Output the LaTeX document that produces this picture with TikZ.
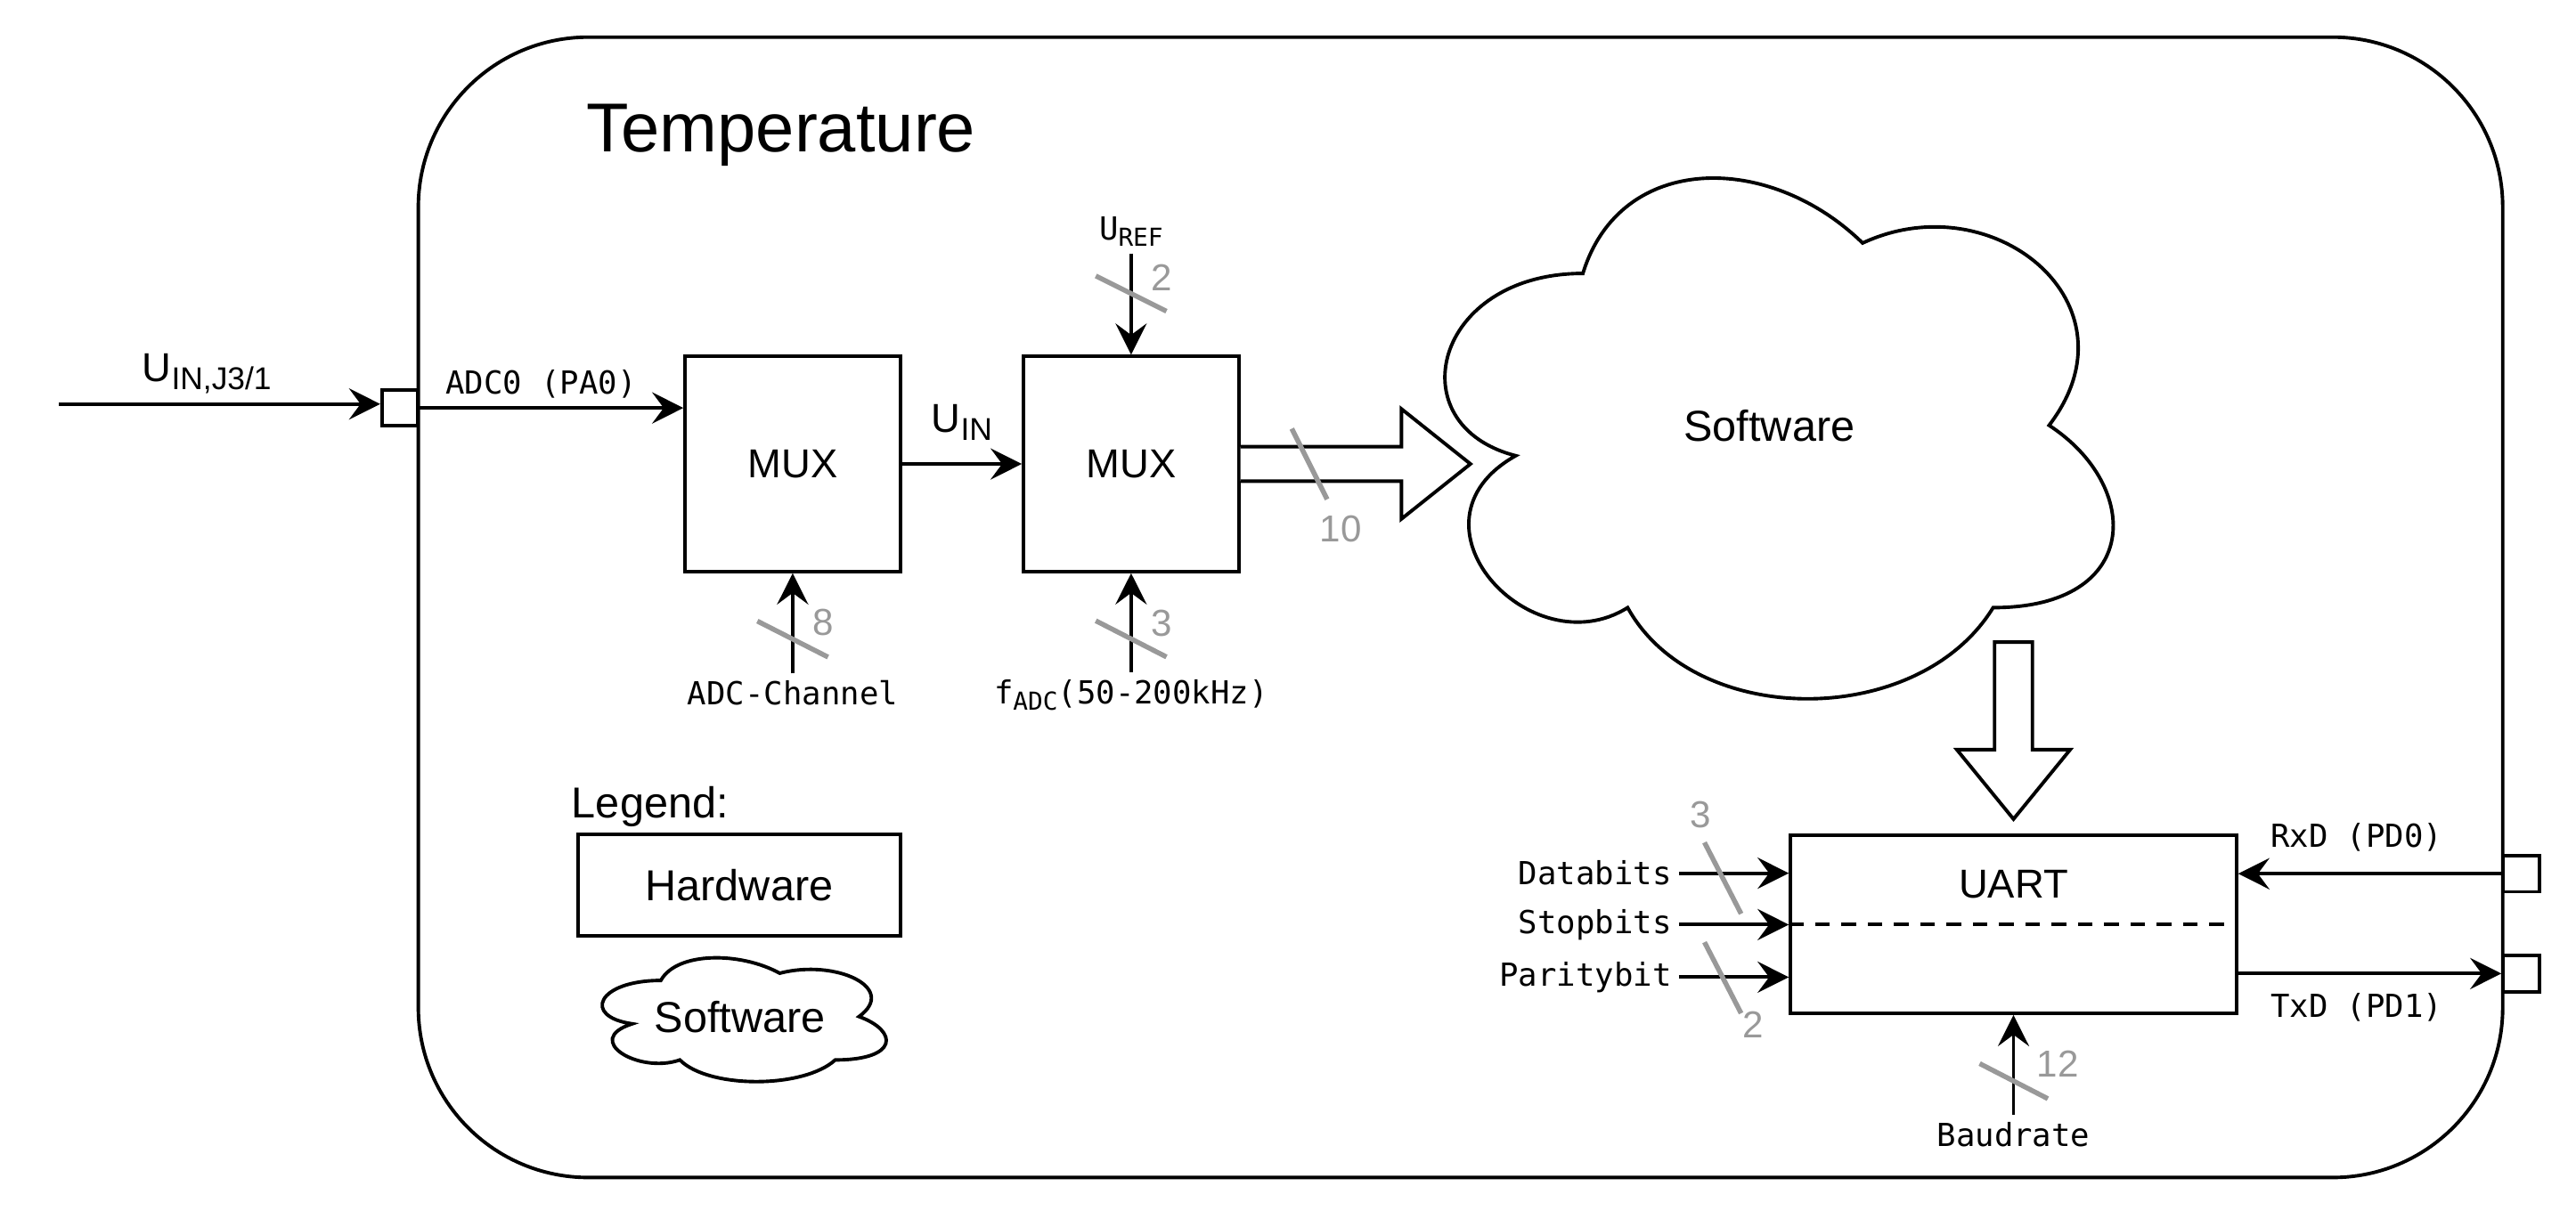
\documentclass[tikz,border=0pt]{standalone}
\usepackage{fontspec}
\setmainfont{Liberation Sans}
\setmonofont{DejaVu Sans Mono}
\usetikzlibrary{arrows.meta, calc}

\definecolor{busgrey}{RGB}{153,153,153}
\newcommand{\lowsub}[1]{\raisebox{-0.35ex}{\scalebox{0.78}{#1}}}

\begin{document}
\begin{tikzpicture}[x=0.02cm, y=-0.02cm, line width=1.2pt,
    >={Stealth[length=3.8mm, width=3.8mm, inset=1.4mm]}]
      \tikzset{hw/.style={draw, inner sep=0pt, font=\fontsize{14}{17}\selectfont},
          mux/.style={hw, minimum width=2.62cm, minimum height=2.62cm},
          portbox/.style={draw, inner sep=0pt, minimum size=0.44cm},
          sig/.style={font=\ttfamily\fontsize{11}{13}\selectfont, inner sep=2pt},
          bus/.style={draw=busgrey, line width=1.7pt},
          buswidth/.style={text=busgrey, inner sep=0pt, font=\fontsize{13}{15}\selectfont},
          swcloud/.pic={
            \draw [fill=white] (0.25,0.25) .. controls (0.05,0.25) and (0,0.5) .. (0.16,0.55)
              .. controls (0,0.66) and (0.18,0.9) .. (0.31,0.8)
              .. controls (0.4,1) and (0.7,1) .. (0.8,0.8)
              .. controls (1,0.8) and (1,0.6) .. (0.875,0.5)
              .. controls (1,0.3) and (0.8,0.1) .. (0.625,0.2)
              .. controls (0.5,0.05) and (0.3,0.05) .. (0.25,0.25) -- cycle;
          }
      }
      \useasboundingbox (0,0) rectangle (1568,742);

      % module frame
      \node [draw, rounded corners=2.07cm, minimum width=25.38cm, minimum height=13.89cm] (temp) at (889,369.8) {};
      \node [anchor=base west, inner sep=0pt, font=\fontsize{24}{29}\selectfont] (title) at (356,92.5) {Temperature};

      % ports
      \node [portbox] (pin) at (243.5,248.4) {};
      \node [portbox] (prx) at (1534.6,532) {};
      \node [portbox] (ptx) at (1534.6,592.8) {};

      % ADC
      \node [mux] (mux1) at (482.5,282.5) {MUX};
      \node [mux] (mux2) at (688.5,282.5) {MUX};
      \coordinate (uin) at (36,246);
      \draw [->] (uin) -- node [pos=0.46, anchor=base, yshift=0.27cm, font=\fontsize{14}{17}\selectfont] {U\lowsub{IN,J3/1}} (uin -| pin.west);
      \draw [->] (pin.east) -- node [sig, pos=0.46, anchor=base, yshift=0.17cm] {ADC0 (PA0)} (pin.east -| mux1.west);
      \draw [->] (mux1) -- node [anchor=base, yshift=0.38cm, font=\fontsize{14}{17}\selectfont] {U\lowsub{IN}} (mux2);

      \node [sig, anchor=base] (uref) at (688.5,146) {U\lowsub{REF}};
      \draw [->] (uref.south -| mux2.north) -- (mux2.north);
      \node [sig, anchor=base] (adcch) at (482.5,429.4) {ADC-Channel};
      \draw [->] (adcch.north -| mux1.south) -- (mux1.south);
      \node [sig, anchor=base] (fadc) at (688.5,428.5) {f\lowsub{ADC}(50-200kHz)};
      \draw [->] (fadc.north -| mux2.south) -- (mux2.south);

      % bus widths
      \draw [bus] (667,168) -- (710,189.5);
      \node [buswidth] (w-uref) at (707,169) {2};
      \draw [bus] (461,378.2) -- (504,400.1);
      \node [buswidth] (w-adcch) at (501,379) {8};
      \draw [bus] (667,378) -- (710,400);
      \node [buswidth] (w-fadc) at (707,379.5) {3};

      % result to software
      \draw [fill=white] ($(mux2.east)+(0,-10.5)$) -- ++(98,0) -- ++(0,-23) -- ++(42,33.5)
          -- ++(-42,33.5) -- ++(0,-23) -- ++(-98,0);
      \draw [bus] (786.3,261) -- (807.8,304);
      \node [buswidth] (w-result) at (816,322) {10};

      \pic [xscale=454, yscale=370] at (850,74) {swcloud};
      \node [font=\fontsize{15}{18}\selectfont] (software) at (1077,259) {Software};

      % UART
      \node [hw, minimum width=5.43cm, minimum height=2.17cm] (uart) at (1225.6,562.75) {};
      \node [font=\fontsize{14}{17}\selectfont] (uarttext) at (1225.6,538.5) {UART};
      \draw [dash pattern=on 1.8mm off 1.4mm] (uart.west) -- (uart.east);
      \draw [fill=white] ($(uart.north)+(-11.5,-116.5)$) -- ++(23,0) -- ++(0,65.5) -- ++(23,0)
          -- ++(-34.5,42.3) -- ++(-34.5,-42.3) -- ++(23,0) -- cycle;

      \node [sig, anchor=east] (databits) at (1022,531.7) {Databits};
      \node [sig, anchor=east] (stopbits) at (1022,563) {Stopbits};
      \node [sig, anchor=east] (paritybit) at (1022,595) {Paritybit};
      \draw [->] (databits.east) -- (databits.east -| uart.west);
      \draw [->] (stopbits.east) -- (stopbits.east -| uart.west);
      \draw [->] (paritybit.east) -- (paritybit.east -| uart.west);
      \draw [bus] (1037.5,513) -- (1059.8,556.4);
      \node [buswidth] (w-data) at (1035,496) {3};
      \draw [bus] (1037.5,573.7) -- (1059.8,617);
      \node [buswidth] (w-parity) at (1067,624) {2};

      \draw [->] (prx.west) -- node [sig, pos=0.55, anchor=base, yshift=0.32cm] {RxD (PD0)} (prx.west -| uart.east);
      \draw [->] (ptx.west -| uart.east) -- node [sig, pos=0.45, anchor=base, yshift=-0.53cm] {TxD (PD1)} (ptx.west);

      \node [sig, anchor=base] (baud) at (1225.6,698) {Baudrate};
      \draw [->] (baud.north -| uart.south) -- (uart.south);
      \draw [bus] (1205,647.6) -- (1246.5,669);
      \node [buswidth] (w-baud) at (1252.5,647.6) {12};

      % legend
      \node [anchor=base west, inner sep=0pt, font=\fontsize{15}{18}\selectfont] (legend) at (347,498) {Legend:};
      \node [hw, font=\fontsize{15}{18}\selectfont, minimum width=3.92cm, minimum height=1.23cm] (hwkey) at (450,539) {Hardware};
      \pic [xscale=193, yscale=88] at (354,575) {swcloud};
      \node [font=\fontsize{15}{18}\selectfont] (swkey) at (450.5,619) {Software};

    \end{tikzpicture}
\end{document}
